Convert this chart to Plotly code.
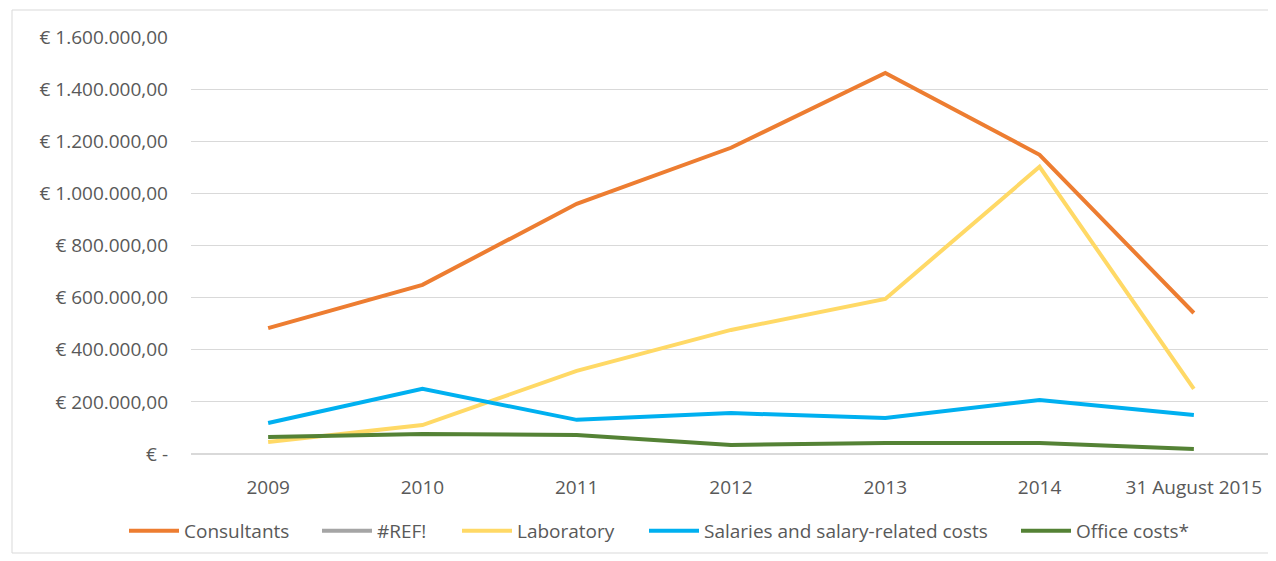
import plotly.graph_objects as go

categories = ["2009", "2010", "2011", "2012", "2013", "2014", "31 August 2015"]
consultants = [483000, 649000, 960000, 1175000, 1462000, 1148000, 541000]
ref_error = [None, None, None, None, None, None, None]
laboratory = [46000, 111000, 319000, 476000, 595000, 1102000, 250000]
salaries = [119000, 250000, 131000, 157000, 138000, 207000, 150000]
office = [65000, 77000, 73000, 35000, 42000, 42000, 19000]

y_ticks = [0, 200000, 400000, 600000, 800000, 1000000, 1200000, 1400000, 1600000]
y_labels = ["€ -", "€ 200.000,00", "€ 400.000,00", "€ 600.000,00", "€ 800.000,00",
            "€ 1.000.000,00", "€ 1.200.000,00", "€ 1.400.000,00", "€ 1.600.000,00"]

series = [
    ("Consultants", consultants, "#ED7D31"),
    ("#REF!", ref_error, "#A5A5A5"),
    ("Laboratory", laboratory, "#FFD966"),
    ("Salaries and salary-related costs", salaries, "#00B0F0"),
    ("Office costs*", office, "#548235"),
]

# layout geometry (figure pixels)
L, R, T, B = 183, 13, 29, 115
W, H = 1276, 561
PW, PH = W - L - R, H - T - B

def px_x(fx):
    return (fx - L) / PW

def px_y(fy):
    return (H - B - fy) / PH

legend_left = [116, 309, 449, 636, 1008]
legend_names = ["legend", "legend2", "legend3", "legend4", "legend5"]

font_family = "Open Sans, Liberation Sans, sans-serif"
fig = go.Figure()
for (name, vals, color), lg in zip(series, legend_names):
    fig.add_trace(go.Scatter(x=categories, y=vals, name=name, mode="lines",
                             line=dict(color=color, width=4), legend=lg))

legend_cfg = {}
for lg, lx in zip(legend_names, legend_left):
    legend_cfg[lg] = dict(orientation="h", x=px_x(lx), xanchor="left",
                          y=px_y(523), yanchor="middle",
                          font=dict(family=font_family, size=19, color="#595959"),
                          itemwidth=50, bgcolor="rgba(0,0,0,0)")

fig.update_layout(
    width=W, height=H,
    margin=dict(l=L, r=R, t=T, b=B),
    paper_bgcolor="white", plot_bgcolor="white",
    font=dict(family=font_family, size=19, color="#595959"),
    showlegend=True,
    xaxis=dict(type="category", showgrid=False, showline=False, zeroline=False,
               ticks="", ticklabelstandoff=20, range=[-0.5, 6.5]),
    yaxis=dict(range=[0, 1600000], tickvals=y_ticks, ticktext=y_labels,
               showgrid=True, gridcolor="#D9D9D9", gridwidth=1, zeroline=True,
               zerolinecolor="#D9D9D9", zerolinewidth=2, showline=False, ticks="",
               ticklabelstandoff=22),
    shapes=[dict(type="rect", xref="paper", yref="paper",
                 x0=px_x(4), x1=px_x(1265), y0=px_y(545), y1=px_y(2),
                 line=dict(color="#D9D9D9", width=1), fillcolor="rgba(0,0,0,0)")],
    **legend_cfg,
)

fig.write_html("out.html")
